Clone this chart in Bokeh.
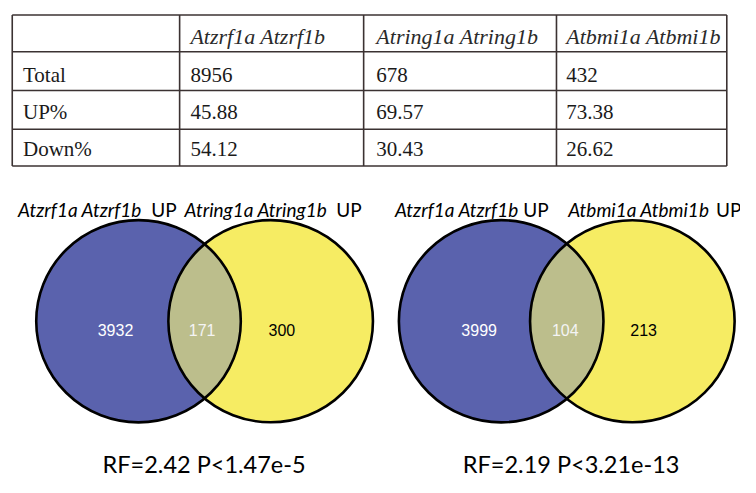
import numpy as np
from bokeh.plotting import figure
from bokeh.models import Range1d
from bokeh.core.properties import value
from bokeh.embed import file_html
from bokeh.resources import INLINE

# ---------------- data ----------------
table_cols = ["Atzrf1a Atzrf1b", "Atring1a Atring1b", "Atbmi1a Atbmi1b"]
row_labels = ["Total", "UP%", "Down%"]
total_vals = ["8956", "678", "432"]
up_vals = ["45.88", "69.57", "73.38"]
down_vals = ["54.12", "30.43", "26.62"]

venn1_sets = ["Atzrf1a Atzrf1b", "Atring1a Atring1b"]
venn1_counts = [3932, 171, 300]
venn2_sets = ["Atzrf1a Atzrf1b", "Atbmi1a Atbmi1b"]
venn2_counts = [3999, 104, 213]
stats = ["RF=2.42 P<1.47e-5", "RF=2.19 P<3.21e-13"]

# ---------------- figure (data units = reference pixels) ----------------
W, H = 740, 477
p = figure(width=W, height=H, x_range=Range1d(0, 756), y_range=Range1d(493, 0),
           output_backend="svg", toolbar_location=None, min_border=0)
p.axis.visible = False
p.grid.visible = False
p.outline_line_color = None
p.background_fill_color = "white"

# ---------------- table ----------------
xs = [12, 183, 371, 568, 742]
ys = [15, 53, 93, 133, 171]
bc = "#3b3232"
p.segment(x0=[xs[0]] * len(ys), x1=[xs[-1]] * len(ys), y0=ys, y1=ys, line_color=bc, line_width=1.6)
p.segment(x0=xs, x1=xs, y0=[ys[0]] * len(xs), y1=[ys[-1]] * len(xs), line_color=bc, line_width=1.6)

col_x = [194, 384, 578]
serif = value("Liberation Serif")
p.text(x=col_x, y=[37.5] * 3, text=table_cols, text_font=serif, text_font_style="italic",
       text_font_size="22px", text_color="#2a2a2a", text_baseline="alphabetic")
row_base = [76.5, 115, 153.5]
p.text(x=[23] * 3, y=row_base, text=row_labels, text_font=serif,
       text_font_size="21px", text_color="#1a1a1a", text_baseline="alphabetic")
for vals, yb in zip([total_vals, up_vals, down_vals], row_base):
    p.text(x=col_x, y=[yb] * 3, text=vals, text_font=serif,
           text_font_size="21px", text_color="#1a1a1a", text_baseline="alphabetic")

# ---------------- venn diagrams ----------------
BLUE = "#5a62ad"
YELLOW = "#f6ec63"
MIX = "#bcbe8c"
R = 104.5
CY = 331.5


def lens(cx1, cx2, r, cy, n=80):
    a = (cx2 - cx1) / 2.0
    th = np.arccos(a / r)
    t1 = np.linspace(-th, th, n)
    x1 = cx1 + r * np.cos(t1)
    y1 = cy + r * np.sin(t1)
    t2 = np.linspace(np.pi - th, np.pi + th, n)
    x2 = cx2 + r * np.cos(t2)
    y2 = cy + r * np.sin(t2)
    return np.concatenate([x1, x2]), np.concatenate([y1, y2])


sans = value("Lato")


def venn(cx1, cx2, counts, names, name_x, up_x, num_x, stat, stat_x):
    p.ellipse(x=[cx1], y=[CY], width=2 * R, height=2 * R, fill_color=BLUE, line_color=None)
    p.ellipse(x=[cx2], y=[CY], width=2 * R, height=2 * R, fill_color=YELLOW, line_color=None)
    lx, ly = lens(cx1, cx2, R, CY)
    p.patch(lx, ly, fill_color=MIX, line_color=None)
    p.ellipse(x=[cx1, cx2], y=[CY, CY], width=2 * R, height=2 * R, fill_color=None,
              line_color="black", line_width=2.6)
    p.text(x=num_x, y=[341] * 3, text=[str(c) for c in counts], text_font=value("Liberation Sans"),
           text_font_size="16px", text_color=["white", "#f4f4f4", "black"],
           text_align="center", text_baseline="alphabetic")
    p.text(x=name_x, y=[216.5] * 2, text=names, text_font=sans, text_font_style="italic",
           text_font_size="19px", text_color="black", text_baseline="alphabetic")
    p.text(x=up_x, y=[216.5] * 2, text=["UP", "UP"], text_font=sans,
           text_font_size="19px", text_color="black", text_baseline="alphabetic")
    p.text(x=[stat_x], y=[479], text=[stat], text_font=sans, text_font_size="23.5px",
           text_color="black", text_align="center", text_baseline="alphabetic")


venn(141, 276, venn1_counts, venn1_sets, [18, 188], [154, 343], [117.5, 206, 287.5], stats[0], 208)
venn(511.5, 645.5, venn2_counts, venn2_sets, [403, 580], [534, 731], [489, 577, 657], stats[1], 583)

open("out.html", "w").write(file_html(p, INLINE))
